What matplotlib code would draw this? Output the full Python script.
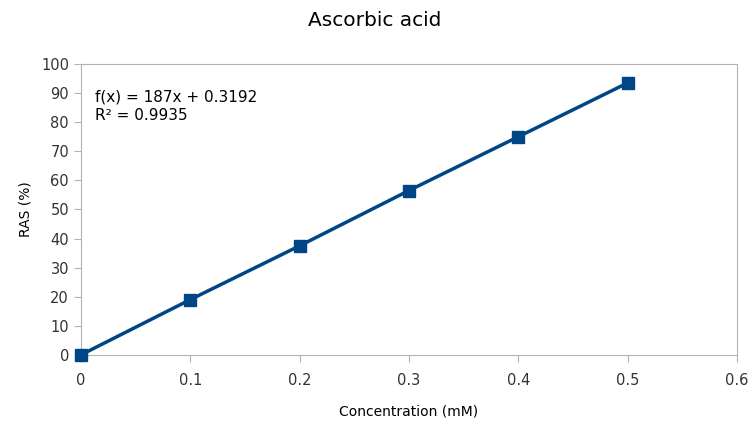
import numpy as np
import matplotlib.pyplot as plt

conc = [0, 0.1, 0.2, 0.3, 0.4, 0.5]
ras = [0.0, 19.0, 37.5, 56.5, 75.0, 93.5]
xticks = [0, 0.1, 0.2, 0.3, 0.4, 0.5, 0.6]
yticks = list(range(0, 101, 10))

plt.rcParams['font.family'] = ['DejaVu Sans']

fig = plt.figure(figsize=(7.49, 4.21), dpi=100)
ax = fig.add_axes([0.108, 0.157, 0.876, 0.691])

col = '#004586'
ax.plot(conc, ras, '-', color=col, linewidth=2.5, marker='s', markersize=9, clip_on=False, zorder=3)

ax.set_xlim(0, 0.6)
ax.set_ylim(0, 100)
ax.set_xticks(xticks)
ax.set_xticklabels(['0', '0.1', '0.2', '0.3', '0.4', '0.5', '0.6'])
ax.set_yticks(yticks)
for s in ax.spines.values():
    s.set_color('#b3b3b3')
ax.tick_params(colors='#b3b3b3', labelcolor='#333333', labelsize=10.5, length=5, direction='out')
ax.tick_params(axis='x', pad=8)

ax.set_xlabel('Concentration (mM)', fontsize=10, labelpad=12)
ax.set_ylabel('RAS (%)', fontsize=10, labelpad=6)
fig.suptitle('Ascorbic acid', fontsize=14.5, y=0.975)

ax.text(0.022, 0.855, 'f(x) = 187x + 0.3192\nR² = 0.9935', transform=ax.transAxes,
        fontsize=11, va='center', ha='left', linespacing=1.35)

fig.savefig('out.png', dpi=100)
